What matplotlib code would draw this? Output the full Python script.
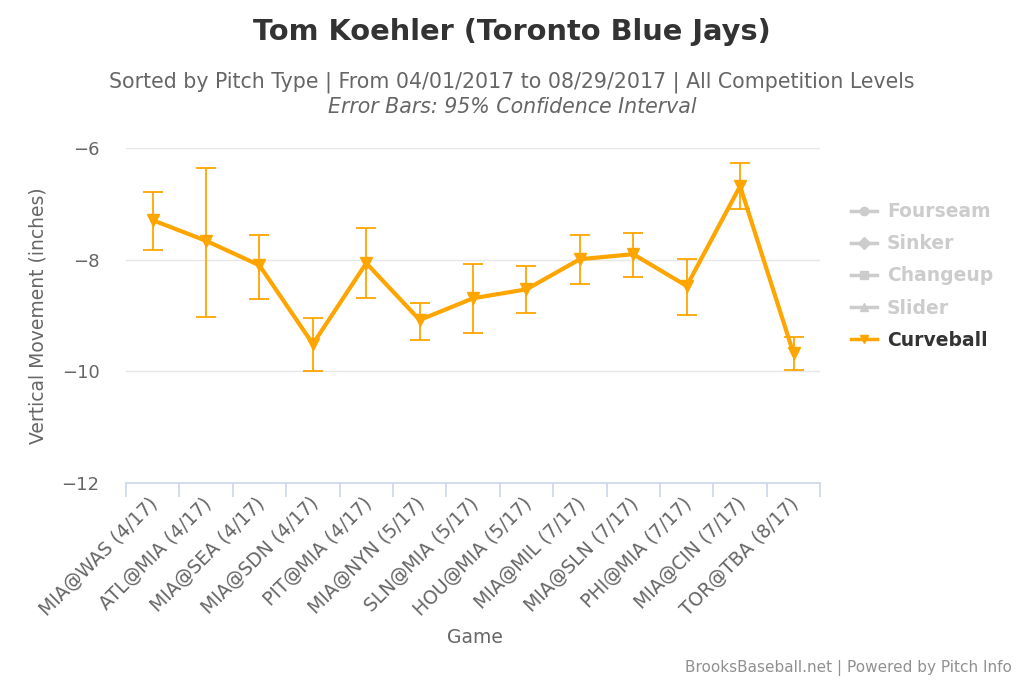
import numpy as np
import matplotlib
matplotlib.use("Agg")
import matplotlib.pyplot as plt
import matplotlib.transforms as mtransforms
from matplotlib.lines import Line2D

plt.rcParams["font.family"] = ["DejaVu Sans"]

games = [
    "MIA@WAS (4/17)", "ATL@MIA (4/17)", "MIA@SEA (4/17)", "MIA@SDN (4/17)",
    "PIT@MIA (4/17)", "MIA@NYN (5/17)", "SLN@MIA (5/17)", "HOU@MIA (5/17)",
    "MIA@MIL (7/17)", "MIA@SLN (7/17)", "PHI@MIA (7/17)", "MIA@CIN (7/17)",
    "TOR@TBA (8/17)",
]
curveball = [-7.29, -7.66, -8.10, -9.51, -8.06, -9.08, -8.69, -8.53, -7.99, -7.90, -8.47, -6.68, -9.68]
ci_upper = [-6.78, -6.36, -7.56, -9.05, -7.43, -8.78, -8.08, -8.11, -7.56, -7.52, -7.98, -6.26, -9.38]
ci_lower = [-7.83, -9.02, -8.71, -10.00, -8.68, -9.44, -9.32, -8.95, -8.44, -8.31, -8.99, -7.09, -9.97]
legend_names = ["Fourseam", "Sinker", "Changeup", "Slider", "Curveball"]
legend_markers = ["o", "D", "s", "^", "v"]

orange = "#FFA500"
x = np.arange(len(games))
vals = np.array(curveball)
yerr = [vals - np.array(ci_lower), np.array(ci_upper) - vals]

fig = plt.figure(figsize=(10.24, 6.83), dpi=100)
ax = fig.add_axes([0.123, 0.293, 0.678, 0.49])

ax.errorbar(x, vals, yerr=yerr, fmt="none", ecolor=orange, elinewidth=1.3,
            capsize=7, capthick=1.3, zorder=3)
ax.plot(x, vals, color=orange, lw=3, marker="v", markersize=9, zorder=4)

ax.set_xlim(-0.5, len(games) - 0.5)
ax.set_ylim(-12, -6)
ax.set_yticks([-12, -10, -8, -6])
ax.set_yticklabels(["\u221212", "\u221210", "\u22128", "\u22126"])
ax.grid(axis="y", color="#e6e6e6", lw=1)
ax.set_axisbelow(True)
for s in ["top", "right", "left"]:
    ax.spines[s].set_visible(False)
ax.spines["bottom"].set_color("#ccd6eb")
ax.spines["bottom"].set_linewidth(1.2)
ax.tick_params(axis="y", length=0, labelsize=13, labelcolor="#666666", pad=19)

# category boundaries as ticks
ax.set_xticks(np.arange(-0.5, len(games), 1.0), minor=False)
ax.set_xticklabels([""] * (len(games) + 1))
ax.tick_params(axis="x", which="major", length=10, color="#ccd6eb", width=1.2)
ax.set_xticks(x, minor=True)
ax.set_xticklabels(games, minor=True, rotation=45, ha="right", va="top",
                   rotation_mode="anchor", fontsize=13.5, color="#666666")
ax.tick_params(axis="x", which="minor", length=0, pad=8)
shift = mtransforms.ScaledTranslation(-4 / 100, 0, fig.dpi_scale_trans)
for lbl in ax.get_xticklabels(minor=True):
    lbl.set_transform(lbl.get_transform() + shift)

ax.set_ylabel("Vertical Movement (inches)", fontsize=13.5, color="#666666", labelpad=10)
fig.text(0.464, 0.058, "Game", ha="center", fontsize=13.5, color="#666666")

fig.text(0.5, 0.953, "Tom Koehler (Toronto Blue Jays)", ha="center", va="center",
         fontsize=20.8, fontweight="bold", color="#333333")
fig.text(0.5, 0.88, "Sorted by Pitch Type | From 04/01/2017 to 08/29/2017 | All Competition Levels",
         ha="center", va="center", fontsize=14.8, color="#666666")
fig.text(0.5, 0.844, "Error Bars: 95% Confidence Interval", ha="center", va="center",
         fontsize=14.8, color="#666666", style="italic")
fig.text(0.988, 0.022, "BrooksBaseball.net | Powered by Pitch Info", ha="right",
         va="center", fontsize=11, color="#909090")

handles = []
for name, m in zip(legend_names, legend_markers):
    c = orange if name == "Curveball" else "#cccccc"
    handles.append(Line2D([0], [0], color=c, lw=2.5, marker=m, markersize=6))
leg = fig.legend(handles, legend_names, loc="center left", bbox_to_anchor=(0.8145, 0.596),
                 frameon=False, fontsize=13.5, handlelength=1.4, labelspacing=0.7,
                 handletextpad=0.53)
for t, name in zip(leg.get_texts(), legend_names):
    t.set_fontweight("bold")
    t.set_color("#333333" if name == "Curveball" else "#cccccc")

fig.savefig("out.png", dpi=100)
